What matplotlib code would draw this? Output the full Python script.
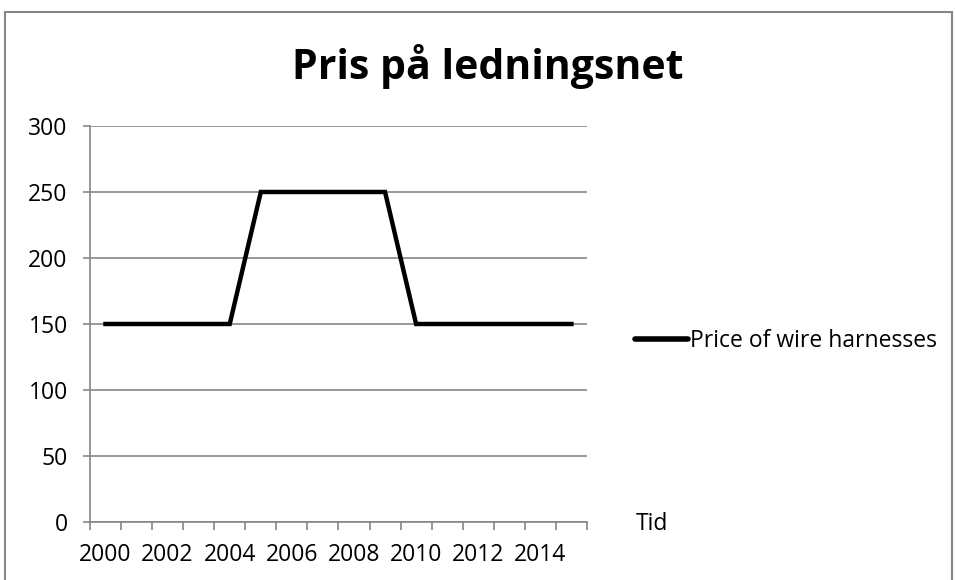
import numpy as np
import matplotlib
matplotlib.use('Agg')
import matplotlib.pyplot as plt
from matplotlib.patches import Rectangle

plt.rcParams['font.family'] = ['Open Sans', 'DejaVu Sans']

# data
years = [2000, 2001, 2002, 2003, 2004, 2005, 2006, 2007,
         2008, 2009, 2010, 2011, 2012, 2013, 2014, 2015]
price = [150, 150, 150, 150, 150, 250, 250, 250,
         250, 250, 150, 150, 150, 150, 150, 150]
yticks = [0, 50, 100, 150, 200, 250, 300]
series_name = 'Price of wire harnesses'
title = 'Pris på ledningsnet'
xlabel = 'Tid'

grey = '#868686'

fig = plt.figure(figsize=(9.55, 5.8), dpi=100)
ax = fig.add_axes([0.0942, 0.10, 0.5204, 0.6828])

idx = np.arange(len(years))
ax.plot(idx, price, color='black', linewidth=3.2, label=series_name,
        solid_joinstyle='miter')

ax.set_xlim(-0.5, len(years) - 0.5)
ax.set_ylim(0, 300)
ax.set_yticks(yticks)
ax.yaxis.grid(True, color=grey, linewidth=1.2)
ax.set_axisbelow(True)

# category axis: tick marks between categories, labels every second year
ax.set_xticks(idx[::2])
ax.set_xticklabels([str(y) for y in years[::2]])
ax.set_xticks(np.arange(-0.5, len(years), 1.0), minor=True)
ax.tick_params(axis='x', which='major', length=0, pad=15, labelsize=16.5)
ax.tick_params(axis='x', which='minor', length=6, width=1.2, color=grey,
               direction='out')
ax.tick_params(axis='y', length=5, width=1.2, color=grey, pad=11,
               labelsize=16.5)

for s in ['top', 'right']:
    ax.spines[s].set_visible(False)
for s in ['left', 'bottom']:
    ax.spines[s].set_color(grey)
    ax.spines[s].set_linewidth(1.2)

fig.text(0.511, 0.885, title, ha='center', va='center', fontsize=29.5,
         fontweight='bold')
fig.text(0.666, 0.097, xlabel, ha='left', va='center', fontsize=16.5)

leg = ax.legend(loc='center left', bbox_to_anchor=(0.665, 0.412),
                bbox_transform=fig.transFigure, frameon=False,
                handlelength=2.3, handletextpad=0.1, fontsize=16.5,
                borderaxespad=0, borderpad=0)
for h in leg.get_lines():
    h.set_linewidth(4)
    h.set_solid_capstyle('round')

fig.patches.append(Rectangle((0.005, -0.01), 0.992, 0.989,
                             transform=fig.transFigure, fill=False,
                             edgecolor=grey, linewidth=1.5))

fig.savefig('out.png', dpi=100)
